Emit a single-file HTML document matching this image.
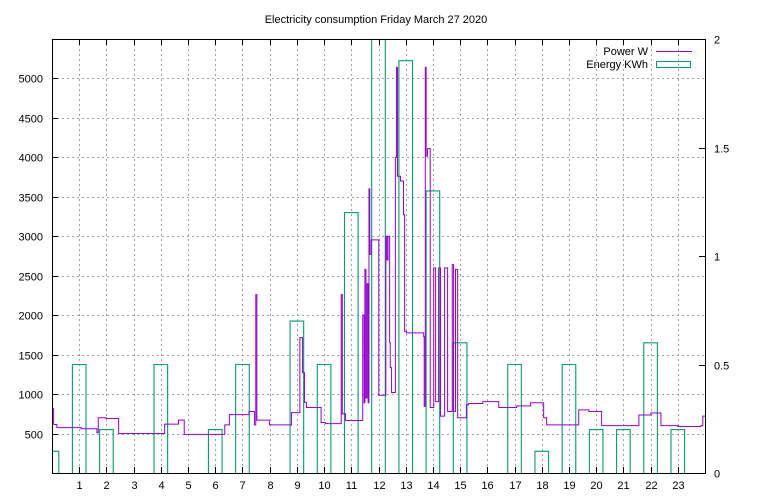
<!DOCTYPE html>
<html><head><meta charset="utf-8"><style>
body{margin:0;background:#fff}
svg{display:block;font-family:"Liberation Sans",sans-serif;font-size:11px}
</style></head><body>
<svg id="c" width="768" height="500" xmlns="http://www.w3.org/2000/svg">
<rect width="768" height="500" fill="#fff"/>
<text x="376" y="23" text-anchor="middle">Electricity consumption Friday March 27 2020</text>
<g id="grid"></g>
<g id="energy"></g>
<g id="power"></g>
<g id="axes"></g>
<g>
<text x="648" y="55" text-anchor="end">Power W</text>
<line x1="656" y1="51.5" x2="692" y2="51.5" stroke="#9400d3" stroke-width="1"/>
<text x="648" y="68" text-anchor="end">Energy KWh</text>
<rect x="656.5" y="61.5" width="34" height="6" fill="none" stroke="#009e73"/>
</g>
</svg>
<script>
const energyHours=[0,1,2,3,4,5,6,7,8,9,10,11,12,13,14,15,16,17,18,19,20,21,22,23];
const energyValues=[0.1,0.5,0.2,0,0.5,0,0.2,0.5,0,0.7,0.5,1.2,2.3,1.9,1.3,0.6,0,0.5,0.1,0.5,0.2,0.2,0.6,0.2];
const powerHours=[0,0.06,0.18,1.07,1.65,1.70,1.98,2.45,4.14,4.65,4.86,6.35,6.52,7.24,7.44,7.49,7.53,7.99,8.80,9.11,9.21,9.28,9.35,9.89,10.05,10.63,10.67,10.79,11.42,11.47,11.50,11.54,11.58,11.62,11.65,11.68,11.73,12.01,12.27,12.31,12.35,12.41,12.43,12.48,12.62,12.66,12.70,12.81,12.92,12.96,13.03,13.66,13.68,13.72,13.75,13.80,13.90,14.03,14.10,14.21,14.28,14.43,14.54,14.71,14.76,14.83,14.91,15.23,15.31,15.83,16.42,17.08,17.59,18.07,18.18,19.36,19.73,20.20,21.57,22.01,22.38,23.0,23.85,23.92];
const powerValues=[815,615,575,560,510,700,690,500,620,670,490,610,740,780,610,2260,670,610,765,1715,1270,895,830,640,625,2260,750,665,2000,890,2580,950,2400,890,3600,2770,2955,985,3000,2700,3000,1650,1335,1020,4000,5140,3760,3700,3275,1795,1775,1730,845,5140,4015,4110,830,2600,905,2600,720,2600,780,2640,780,2580,700,865,880,905,830,850,890,700,610,800,780,600,735,760,600,590,600,720];
const xTicks=[1,2,3,4,5,6,7,8,9,10,11,12,13,14,15,16,17,18,19,20,21,22,23];
const yTicks=[500,1000,1500,2000,2500,3000,3500,4000,4500,5000];
const y2Ticks=[0,0.5,1,1.5,2];
const L=52,R=705,T=39,B=473;
const X=h=>L+(R-L)*h/24, Y=w=>B-(B-T)*w/5500, Y2=e=>B-(B-T)*e/2;
const NS="http://www.w3.org/2000/svg";
function mk(tag,attrs,parent,txt){const e=document.createElementNS(NS,tag);for(const k in attrs)e.setAttribute(k,attrs[k]);if(txt!==undefined)e.textContent=txt;parent.appendChild(e);return e;}
const grid=document.getElementById('grid'),axes=document.getElementById('axes');
xTicks.forEach(h=>{const x=Math.round(X(h))+0.5;
 const g=mk('line',{x1:x,y1:T,x2:x,y2:B,stroke:'#a0a0a0','stroke-dasharray':'2,3'},grid);
 
 
 const t=mk('text',{x:x,y:B+16,'text-anchor':'middle'},axes,String(h));
 
 
 const k=mk('path',{d:`M${x},${B}v-6M${x},${T}v6`,stroke:'#000'},axes);
 
 
});
yTicks.forEach(v=>{const y=Math.round(Y(v))+0.5;
 const g=mk('line',{x1:L,y1:y,x2:R,y2:y,stroke:'#a0a0a0','stroke-dasharray':'2,3'},grid);
 
 
 const t=mk('text',{x:43,y:y+4,'text-anchor':'end'},axes,String(v));
 
 
 const k=mk('path',{d:`M${L},${y}h6`,stroke:'#000'},axes);
 
 
});
y2Ticks.forEach(v=>{const y=Math.round(Y2(v))+0.5;
 const t=mk('text',{x:714,y:y+4},axes,String(v));
 
 
 const k=mk('path',{d:`M${R},${y}h-6`,stroke:'#000'},axes);
 
 
});
const fr=mk('rect',{x:L+0.5,y:T+0.5,width:R-L,height:B-T,fill:'none',stroke:'#000'},axes);


const en=document.getElementById('energy');
mk('clipPath',{id:'clip'},en);
mk('rect',{x:L,y:T,width:R-L,height:B-T},document.getElementById('clip'));
energyHours.forEach((h,i)=>{const v=energyValues[i];if(v<=0)return;
 const x0=Math.max(L,X(h-0.25)),x1=X(h+0.25),y=Y2(v);
 const r=mk('path',{d:`M${x0},${B}V${y}H${x1}V${B}`,fill:'none',stroke:'#009e73','stroke-width':1.1,'clip-path':'url(#clip)'},en);
 
 
});
let d='';
powerHours.forEach((h,i)=>{const x=X(h),y=Y(powerValues[i]);d+=(i?`H${x}V${y}`:`M${x},${y}`);});
d+=`H${X(24)}`;
const p=mk('path',{d:d,fill:'none',stroke:'#9400d3','stroke-width':1,'clip-path':'url(#clip)'},document.getElementById('power'));


</script>
</body></html>
